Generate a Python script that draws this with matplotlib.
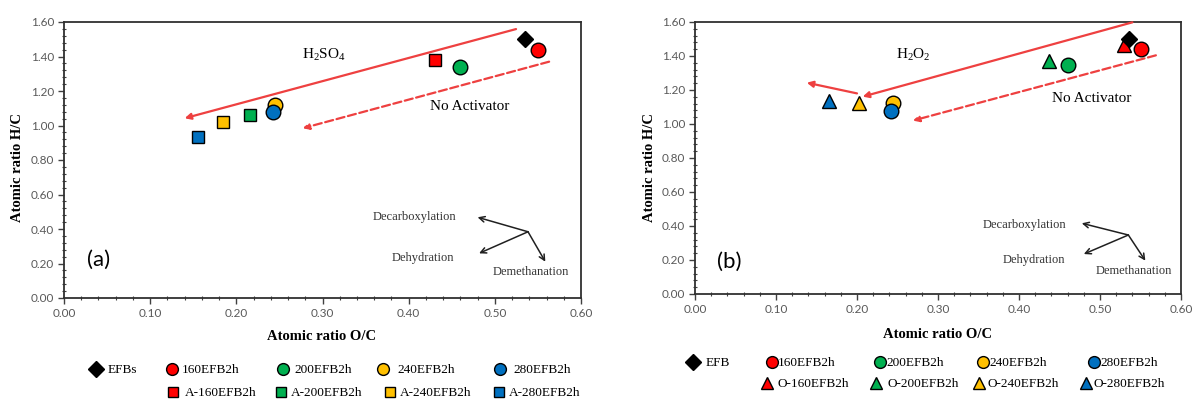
import matplotlib
matplotlib.use('Agg')
import matplotlib.pyplot as plt
from matplotlib.lines import Line2D
from matplotlib.ticker import MultipleLocator, FormatStrFormatter

plt.rcParams['mathtext.fontset'] = 'custom'
plt.rcParams['mathtext.rm'] = 'Liberation Serif'
plt.rcParams['mathtext.it'] = 'Liberation Serif:italic'

# ---------------- data ----------------
samples = ['160EFB2h', '200EFB2h', '240EFB2h', '280EFB2h']
colors = ['#FF0000', '#00B050', '#FFC000', '#0070C0']

# panel (a)
efb_a_x, efb_a_y = [0.535], [1.50]
raw_a_x = [0.550, 0.460, 0.245, 0.242]
raw_a_y = [1.440, 1.340, 1.120, 1.078]
acid_x = [0.430, 0.216, 0.184, 0.156]
acid_y = [1.380, 1.058, 1.020, 0.935]

# panel (b)
efb_b_x, efb_b_y = [0.536], [1.50]
raw_b_x = [0.550, 0.461, 0.245, 0.242]
raw_b_y = [1.440, 1.347, 1.122, 1.078]
ox_x = [0.530, 0.437, 0.202, 0.166]
ox_y = [1.465, 1.371, 1.125, 1.137]

xticks = [0.0, 0.1, 0.2, 0.3, 0.4, 0.5, 0.6]
yticks = [0.0, 0.2, 0.4, 0.6, 0.8, 1.0, 1.2, 1.4, 1.6]

W, H = 1194, 399
fig = plt.figure(figsize=(W / 100, H / 100), dpi=100)
axA = fig.add_axes([64 / W, 1 - 298 / H, (581 - 64) / W, (298 - 22) / H])
axB = fig.add_axes([695 / W, 1 - 294 / H, (1181 - 695) / W, (294 - 22) / H])

TICKFONT = dict(family='Lato', size=8.5)
SERIF = 'Liberation Serif'
ARROW_RED = '#EE4040'


def style(ax):
    ax.set_xlim(0, 0.6)
    ax.set_ylim(0, 1.6)
    ax.set_xticks(xticks)
    ax.set_yticks(yticks)
    ax.xaxis.set_minor_locator(MultipleLocator(0.02))
    ax.yaxis.set_minor_locator(MultipleLocator(0.04))
    ax.xaxis.set_major_formatter(FormatStrFormatter('%.2f'))
    ax.yaxis.set_major_formatter(FormatStrFormatter('%.2f'))
    ax.tick_params(which='major', direction='out', length=4, width=1,
                   color='#404040', labelcolor='#595959', pad=3)
    ax.tick_params(which='minor', direction='inout', length=3, width=0.8,
                   color='#404040')
    for lab in ax.get_xticklabels() + ax.get_yticklabels():
        lab.set_fontfamily(TICKFONT['family'])
        lab.set_fontsize(TICKFONT['size'])
    for s in ax.spines.values():
        s.set_linewidth(1.3)
        s.set_color('#303030')


style(axA)
style(axB)

MS_C = 10.5  # circle
MS_S = 9.0   # square
MS_D = 10.5  # diamond
MS_T = 10.5  # triangle

# ---- panel (a) marks ----
axA.plot(efb_a_x, efb_a_y, 'D', ms=MS_D * 0.8, mfc='black', mec='black', zorder=5)
for i in range(4):
    axA.plot([raw_a_x[i]], [raw_a_y[i]], 'o', ms=MS_C, mfc=colors[i], mec='black', mew=1, zorder=4 + i * 0.1)
    axA.plot([acid_x[i]], [acid_y[i]], 's', ms=MS_S, mfc=colors[i], mec='black', mew=1, zorder=4)

# ---- panel (b) marks ----
for i in range(4):
    axB.plot([raw_b_x[i]], [raw_b_y[i]], 'o', ms=MS_C, mfc=colors[i], mec='black', mew=1, zorder=4 + i * 0.1)
    axB.plot([ox_x[i]], [ox_y[i]], '^', ms=MS_T, mfc=colors[i], mec='black', mew=1, zorder=4)
axB.plot(efb_b_x, efb_b_y, 'D', ms=MS_D * 0.8, mfc='black', mec='black', zorder=6)

# ---- trend arrows ----
arrows_a = [((0.5246, 1.559), (0.140, 1.042), '-'),
            ((0.563, 1.370), (0.277, 0.984), '--')]
arrows_b = [((0.540, 1.598), (0.207, 1.161), '-'),
            ((0.200, 1.180), (0.138, 1.243), '-'),
            ((0.569, 1.404), (0.269, 1.020), '--')]
for ax, arrs in ((axA, arrows_a), (axB, arrows_b)):
    for start, end, ls in arrs:
        ax.annotate('', xy=end, xytext=start,
                    arrowprops=dict(arrowstyle='-|>', color=ARROW_RED, lw=1.6,
                                    linestyle=ls, mutation_scale=9,
                                    shrinkA=0, shrinkB=0),
                    zorder=3, annotation_clip=False)

axA.text(0.301, 1.409, r'H$_2$SO$_4$', family=SERIF, fontsize=11, ha='center', va='center')
axA.text(0.471, 1.113, 'No Activator', family=SERIF, fontsize=11, ha='center', va='center')
axB.text(0.2695, 1.406, r'H$_2$O$_2$', family=SERIF, fontsize=11, ha='center', va='center')
axB.text(0.490, 1.151, 'No Activator', family=SERIF, fontsize=11, ha='center', va='center')

# ---- mechanism arrows ----
mech_a = dict(origin=(0.5385, 0.384), decarb=(0.480, 0.468), dehyd=(0.4817, 0.259), demeth=(0.5586, 0.2105),
              t_decarb=(0.455, 0.468), t_dehyd=(0.4533, 0.230), t_demeth=(0.542, 0.149))
mech_b = dict(origin=(0.535, 0.347), decarb=(0.4775, 0.416), dehyd=(0.480, 0.235), demeth=(0.556, 0.196),
              t_decarb=(0.459, 0.406), t_dehyd=(0.4575, 0.200), t_demeth=(0.542, 0.137))
for ax, m in ((axA, mech_a), (axB, mech_b)):
    for key in ('decarb', 'dehyd', 'demeth'):
        ax.annotate('', xy=m[key], xytext=m['origin'],
                    arrowprops=dict(arrowstyle='->', color='#202020', lw=1.1,
                                    mutation_scale=10, shrinkA=0, shrinkB=0))
    ax.text(*m['t_decarb'], 'Decarboxylation', family=SERIF, fontsize=9, ha='right', va='center', color='#333333')
    ax.text(*m['t_dehyd'], 'Dehydration', family=SERIF, fontsize=9, ha='right', va='center', color='#333333')
    ax.text(*m['t_demeth'], 'Demethanation', family=SERIF, fontsize=9, ha='center', va='center', color='#333333')

axA.text(0.040, 0.22, '(a)', family='Lato', fontsize=16, ha='center', va='center')
axB.text(0.0417, 0.19, '(b)', family='Lato', fontsize=16, ha='center', va='center')

# ---- axis labels ----
for xc, yc in ((18, 168), (650, 168)):
    fig.text(xc / W, 1 - yc / H, 'Atomic ratio H/C', family=SERIF, fontweight='bold',
             fontsize=10.5, rotation=90, ha='center', va='center')
for xc, yc in ((322, 337), (938, 335)):
    fig.text(xc / W, 1 - yc / H, 'Atomic ratio O/C', family=SERIF, fontweight='bold',
             fontsize=10.5, ha='center', va='center')

# ---- legends (one entry each, placed like the original) ----
LEGFS = 9.5
fs_px = LEGFS * 100 / 72


def entry(marker, color, ms, label, mx, tx, y):
    h = Line2D([], [], linestyle='none', marker=marker, ms=ms, mfc=color, mec='black', mew=1)
    fig.legend(handles=[h], labels=[label], loc='center left',
               bbox_to_anchor=(mx / W, 1 - y / H), frameon=False,
               borderpad=0, borderaxespad=0, handlelength=0,
               handletextpad=(tx - mx) / fs_px,
               prop=dict(family=SERIF, size=LEGFS))


# panel (a) legend
entry('D', 'black', 8, 'EFBs', 96, 108, 370)
for i, (mx, tx) in enumerate([(172, 182), (283, 294), (383, 397), (500, 513)]):
    entry('o', colors[i], 8.5, samples[i], mx, tx, 370)
for i, (mx, tx) in enumerate([(173, 185), (281, 291), (390, 400), (499, 509)]):
    entry('s', colors[i], 7, 'A-' + samples[i], mx, tx, 393)

# panel (b) legend
entry('D', 'black', 8, 'EFB', 693, 706, 363)
for i, (mx, tx) in enumerate([(772, 778), (880, 886), (983, 989), (1094, 1100)]):
    entry('o', colors[i], 8.5, samples[i], mx, tx, 363)
for i, (mx, tx) in enumerate([(767, 778), (876, 887), (979, 988), (1086, 1094)]):
    entry('^', colors[i], 8, 'O-' + samples[i], mx, tx, 384)

fig.savefig('out.png', dpi=100, facecolor='white')
